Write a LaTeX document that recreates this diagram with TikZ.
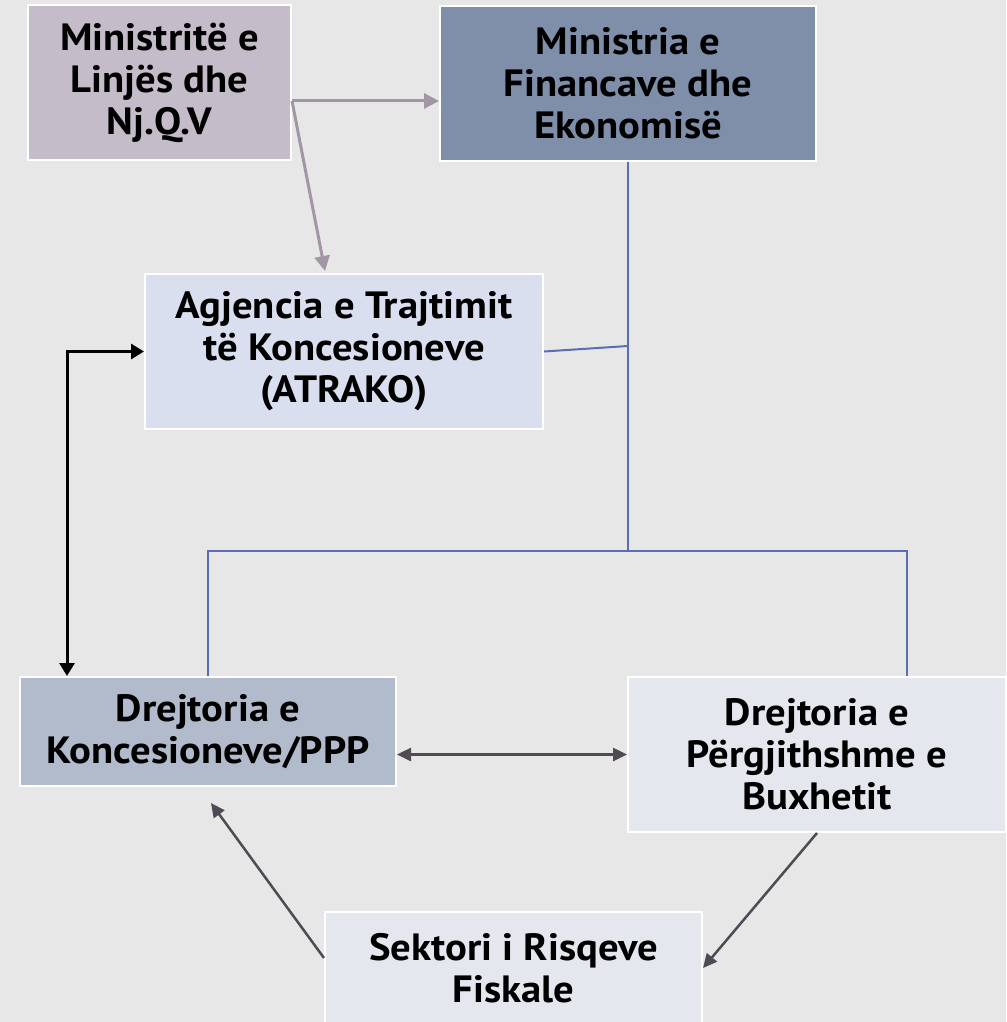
\documentclass[tikz,border=0pt]{standalone}
\usepackage{fontspec}
\setmainfont[FakeStretch=1.07]{PT Sans}
\usetikzlibrary{arrows.meta}
\definecolor{bgc}{HTML}{E7E7E7}
\definecolor{cA}{HTML}{C4BCC8}
\definecolor{cB}{HTML}{7F8FA9}
\definecolor{cC}{HTML}{DADFEF}
\definecolor{cD}{HTML}{B1BBCB}
\definecolor{cE}{HTML}{E4E7ED}
\definecolor{mauve}{HTML}{A195A6}
\definecolor{blueln}{HTML}{5A6EB4}
\definecolor{darkln}{HTML}{4F4A54}
\tikzset{
  box/.style={draw=white, line width=2pt, align=center, inner sep=0pt,
    font=\fontsize{38}{42}\selectfont\bfseries, text=black},
  mauvearrow/.style={draw=mauve, line width=3pt, -{Triangle[length=15pt,width=15pt]}},
  blueline/.style={draw=blueln, line width=2pt},
  blackarrow/.style={draw=black, line width=3pt, {Triangle[length=13pt,width=15pt]}-{Triangle[length=13pt,width=15pt]}},
  darkarrow/.style={draw=darkln, line width=2.5pt, -{Triangle[length=14pt,width=13pt]}},
}
\begin{document}
\begin{tikzpicture}[x=1pt,y=-1pt]
\fill[bgc] (0,0) rectangle (1006,1022);
\useasboundingbox (0,0) rectangle (1006,1022);
\node[box, fill=cA, minimum width=263pt, minimum height=155pt] (A) at (159.5,82.5) {Ministritë e\\Linjës dhe\\Nj.Q.V};
\node[box, fill=cB, minimum width=376pt, minimum height=155pt] (B) at (628,83.5) {Ministria e\\Financave dhe\\Ekonomisë};
\node[box, fill=cC, minimum width=398pt, minimum height=155pt] (C) at (344,351.5) {Agjencia e Trajtimit\\të Koncesioneve\\(ATRAKO)};
\node[box, fill=cD, minimum width=376pt, minimum height=109pt] (D) at (208,731.5) {Drejtoria e\\Koncesioneve/PPP};
\node[box, fill=cE, minimum width=378pt, minimum height=155pt] (E) at (817,754.5) {Drejtoria e\\Përgjithshme e\\Buxhetit};
\node[box, fill=cE, minimum width=377pt, minimum height=112pt] (F) at (513.5,968) {Sektori i Risqeve\\Fiskale};

% mauve arrows
\coordinate (a1) at ([yshift=-18.5pt]A.east);
\draw[mauvearrow] (a1) -- (a1 -| B.west);
\draw[mauvearrow] (a1) -- ([shift={(-19pt,2pt)}]C.north);

% blue tree
\coordinate (j) at (628,551);
\coordinate (cj) at (628,346);
\draw[blueline] (B.south) -- (j);
\draw[blueline] (C.east) -- (cj);
\draw[blueline] (D.north) -- (D.north |- j) -- ([xshift=90pt]E.north |- j) -- ([xshift=90pt]E.north);

% black elbow
\coordinate (k) at ([xshift=-141pt]D.north);
\draw[blackarrow] (C.west) -| (k);

% dark arrows
\draw[darkln, line width=2.5pt, {Triangle[length=14pt,width=13pt]}-{Triangle[length=14pt,width=13pt]}] (D.east |- E.west) -- (E.west);
\draw[darkarrow] ([yshift=10pt]F.west) -- ([shift={(3pt,-16pt)}]D.south);
\draw[darkarrow] (E.south) -- (F.east);
\end{tikzpicture}
\end{document}
